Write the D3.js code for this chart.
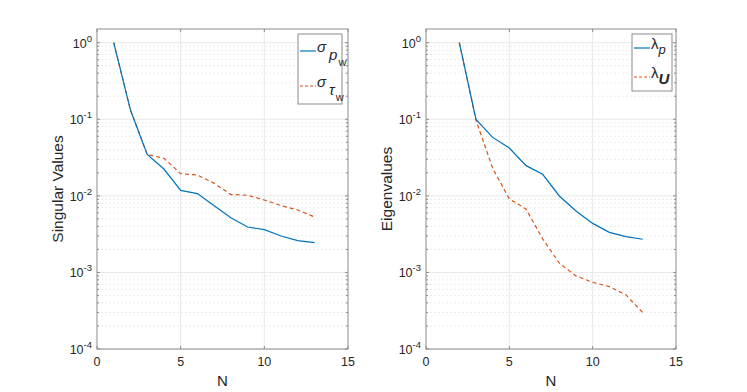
<!DOCTYPE html>
<html>
<head>
<meta charset="utf-8">
<script src="https://cdn.jsdelivr.net/npm/d3@7"></script>
<style>
  body { margin: 0; background: #fff; }
  svg { font-family: "Liberation Sans", Arial, sans-serif; }
</style>
</head>
<body>
<svg id="chart" width="747" height="392"></svg>
<script>
// data
const nLeft = [1, 2, 3, 4, 5, 6, 7, 8, 9, 10, 11, 12, 13];
const sigmaP = [1, 0.132, 0.0348, 0.0224, 0.0118, 0.0107, 0.00745, 0.00519, 0.00392, 0.00362, 0.00299, 0.0026, 0.00245];
const sigmaTau = [1, 0.132, 0.0348, 0.0309, 0.0195, 0.0187, 0.0146, 0.0104, 0.0102, 0.00883, 0.00745, 0.00654, 0.0053];

const nRight = [2, 3, 4, 5, 6, 7, 8, 9, 10, 11, 12, 13];
const lambdaP = [1, 0.0998, 0.058, 0.0421, 0.0248, 0.0191, 0.00996, 0.00634, 0.00437, 0.00334, 0.00293, 0.00271];
const lambdaU = [1, 0.097, 0.0229, 0.0091, 0.00675, 0.00274, 0.00132, 0.0009, 0.000743, 0.000653, 0.000508, 0.000299];

const xTicks = [0, 5, 10, 15];
const yDecades = [-4, -3, -2, -1, 0];

const blue = "#0072BD";
const orange = "#D95319";
const svg = d3.select("#chart");

function drawPanel(opts) {
  const { left, right, top, bottom } = opts;
  const x = d3.scaleLinear().domain([0, 15]).range([left, right]);
  const y = d3.scaleLog().domain([1e-4, 1.51]).range([bottom, top]);
  const g = svg.append("g");

  // minor grid (dotted)
  const minors = [];
  yDecades.forEach(e => {
    for (let m = 2; m <= 9; m++) {
      const v = m * Math.pow(10, e);
      if (v <= 1.51) minors.push(v);
    }
  });
  g.selectAll(".minor").data(minors).enter().append("line")
    .attr("x1", left).attr("x2", right)
    .attr("y1", d => y(d)).attr("y2", d => y(d))
    .attr("stroke", "#ececec").attr("stroke-width", 1)
    .attr("stroke-dasharray", "2,2");

  // major grid
  g.selectAll(".majy").data(yDecades).enter().append("line")
    .attr("x1", left).attr("x2", right)
    .attr("y1", d => y(Math.pow(10, d))).attr("y2", d => y(Math.pow(10, d)))
    .attr("stroke", "#e8e8e8");
  g.selectAll(".majx").data(xTicks.slice(1, -1)).enter().append("line")
    .attr("y1", top).attr("y2", bottom)
    .attr("x1", d => x(d)).attr("x2", d => x(d))
    .attr("stroke", "#e8e8e8");

  // lines
  const line = d3.line().x(d => x(d[0])).y(d => y(d[1]));
  g.append("path")
    .datum(opts.n.map((d, i) => [d, opts.s2[i]]))
    .attr("d", line).attr("fill", "none")
    .attr("stroke", orange).attr("stroke-width", 1.2)
    .attr("stroke-dasharray", "4,3");
  g.append("path")
    .datum(opts.n.map((d, i) => [d, opts.s1[i]]))
    .attr("d", line).attr("fill", "none")
    .attr("stroke", blue).attr("stroke-width", 1.2);

  // box
  g.append("rect")
    .attr("x", left).attr("y", top)
    .attr("width", right - left).attr("height", bottom - top)
    .attr("fill", "none").attr("stroke", "#8c8c8c").attr("stroke-width", 1);

  // ticks (inside, both sides)
  const tk = 3;
  xTicks.forEach(t => {
    g.append("line").attr("x1", x(t)).attr("x2", x(t)).attr("y1", bottom).attr("y2", bottom - tk).attr("stroke", "#8c8c8c");
    g.append("line").attr("x1", x(t)).attr("x2", x(t)).attr("y1", top).attr("y2", top + tk).attr("stroke", "#8c8c8c");
  });
  minors.concat(yDecades.map(e => Math.pow(10, e))).forEach(v => {
    const len = Number.isInteger(Math.log10(v)) ? tk : 2;
    g.append("line").attr("x1", left).attr("x2", left + len).attr("y1", y(v)).attr("y2", y(v)).attr("stroke", "#8c8c8c");
    g.append("line").attr("x1", right).attr("x2", right - len).attr("y1", y(v)).attr("y2", y(v)).attr("stroke", "#8c8c8c");
  });

  // x tick labels
  g.selectAll(".xl").data(xTicks).enter().append("text")
    .attr("x", d => x(d)).attr("y", bottom + 17)
    .attr("text-anchor", "middle").attr("font-size", 12.5).attr("fill", "#262626")
    .text(d => d);

  // y tick labels 10^e
  yDecades.forEach(e => {
    const t = g.append("text")
      .attr("x", left - 5).attr("y", y(Math.pow(10, e)) + 5)
      .attr("text-anchor", "end").attr("font-size", 12.5).attr("fill", "#262626");
    t.append("tspan").text("10");
    t.append("tspan").attr("dy", -6).attr("font-size", 9.5).text(e === 0 ? "0" : "-" + (-e));
  });

  // axis labels
  g.append("text").attr("x", (left + right) / 2).attr("y", bottom + 37)
    .attr("text-anchor", "middle").attr("font-size", 15).attr("fill", "#262626").text("N");
  g.append("text")
    .attr("transform", `translate(${opts.ylabX},${(top + bottom) / 2}) rotate(-90)`)
    .attr("text-anchor", "middle").attr("font-size", 15.5).attr("fill", "#262626")
    .text(opts.ylabel);

  // legend
  const L = opts.legend;
  g.append("rect").attr("x", L.x).attr("y", L.y).attr("width", L.w).attr("height", L.h)
    .attr("fill", "#fff").attr("stroke", "#8c8c8c");
  L.items.forEach((it, i) => {
    const ly = L.rows[i];
    g.append("line").attr("x1", L.x + 2).attr("x2", L.x + 18).attr("y1", ly).attr("y2", ly)
      .attr("stroke", it.color).attr("stroke-width", 1.2)
      .attr("stroke-dasharray", it.dash ? "3,2" : null);
    const t = g.append("text").attr("x", L.x + 19).attr("y", ly + 1)
      .attr("font-size", 15).attr("fill", "#262626");
    it.parts.forEach(p => {
      const s = t.append("tspan").attr("dy", p.dy).text(p.t);
      if (p.italic) s.attr("font-style", "italic");
      if (p.bold) s.attr("font-weight", "bold");
      if (p.size) s.attr("font-size", p.size);
      if (p.dx) s.attr("dx", p.dx);
    });
  });
}

drawPanel({
  left: 97, right: 348, top: 29, bottom: 349,
  n: nLeft, s1: sigmaP, s2: sigmaTau,
  ylabel: "Singular Values", ylabX: 63,
  legend: {
    x: 298, y: 34, w: 44, h: 70, rows: [51, 86],
    items: [
      { color: blue, dash: false, parts: [{ t: "σ", dy: 0, italic: true }, { t: "p", dy: 8, italic: true, dx: 3 }, { t: "w", dy: 6, size: 11, dx: 1 }] },
      { color: orange, dash: true, parts: [{ t: "σ", dy: 0, italic: true }, { t: "τ", dy: 8, italic: true, dx: 3 }, { t: "w", dy: 6, size: 11, dx: 1 }] }
    ]
  }
});

drawPanel({
  left: 426, right: 676, top: 29, bottom: 349,
  n: nRight, s1: lambdaP, s2: lambdaU,
  ylabel: "Eigenvalues", ylabX: 392,
  legend: {
    x: 632, y: 34, w: 40, h: 57, rows: [48, 77],
    items: [
      { color: blue, dash: false, parts: [{ t: "λ", dy: 0 }, { t: "p", dy: 5, italic: true, size: 13 }] },
      { color: orange, dash: true, parts: [{ t: "λ", dy: 0 }, { t: "U", dy: 6, italic: true, bold: true, size: 15 }] }
    ]
  }
});
</script>
</body>
</html>
